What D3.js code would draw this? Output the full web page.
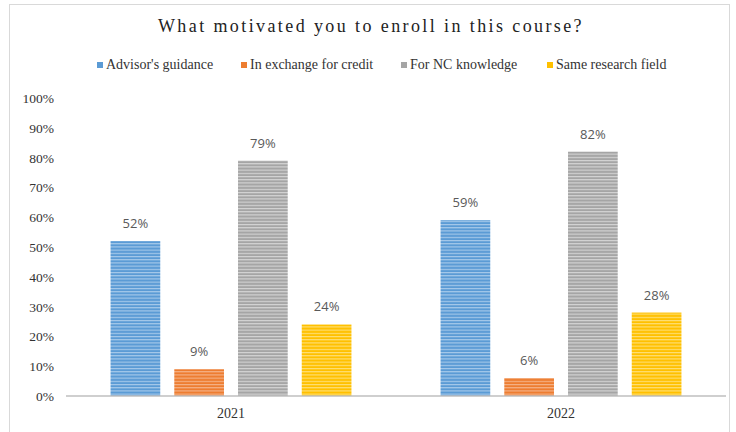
<html>
<head>
<meta charset="utf-8">
<script src="https://cdn.jsdelivr.net/npm/d3@7"></script>
<style>
body { margin: 0; background: #fff; }
svg { display: block; }
</style>
</head>
<body>
<script>
var years = ['2021', '2022'];
var motives = ["Advisor's guidance", 'In exchange for credit', 'For NC knowledge', 'Same research field'];
var v2021 = [52, 9, 79, 24];
var v2022 = [59, 6, 82, 28];
var yTicks = [0, 10, 20, 30, 40, 50, 60, 70, 80, 90, 100];
var colors = ['#5b9bd5', '#ed7d31', '#a5a5a5', '#ffc000'];
var stripes = ['#a9cbeb', '#f5b48a', '#d6d6d6', '#ffe07a'];

var width = 736, height = 432;
var svg = d3.select('body').append('svg')
  .attr('width', width)
  .attr('height', height);

// striped fills
var defs = svg.append('defs');
colors.forEach(function (c, i) {
  var p = defs.append('pattern')
    .attr('id', 'stripe' + i)
    .attr('patternUnits', 'userSpaceOnUse')
    .attr('width', 8).attr('height', 3.2);
  p.append('rect').attr('width', 8).attr('height', 3.2).attr('fill', c);
  p.append('rect').attr('y', 0).attr('width', 8).attr('height', 1.1).attr('fill', stripes[i]);
});

// chart frame
svg.append('rect')
  .attr('x', 9.5).attr('y', 4.5)
  .attr('width', 720).attr('height', 440)
  .attr('fill', 'none')
  .attr('stroke', '#d9d9d9');

var x0 = d3.scaleBand().domain(years).range([66, 726]).paddingInner(0.27).paddingOuter(0.135);
var x1 = d3.scaleBand().domain(motives).range([0, x0.bandwidth()]).paddingInner(0.22);
var y = d3.scaleLinear().domain([0, 100]).range([396, 98]);

svg.append('text')
  .attr('x', 371).attr('y', 32)
  .attr('text-anchor', 'middle')
  .style('font-family', '"Liberation Serif", "Times New Roman", serif')
  .style('font-size', '18px')
  .style('letter-spacing', '2.4px')
  .attr('fill', '#222')
  .text('What motivated you to enroll in this course?');

// legend
var legendX = [97, 241, 401, 547];
var legend = svg.selectAll('.legend').data(motives).enter().append('g')
  .attr('transform', function (d, i) { return 'translate(' + legendX[i] + ',69)'; });
legend.append('rect')
  .attr('x', 0).attr('y', -7).attr('width', 6).attr('height', 6)
  .attr('fill', function (d, i) { return colors[i]; });
legend.append('text')
  .attr('x', 9).attr('y', 0)
  .style('font-family', '"Liberation Serif", "Times New Roman", serif')
  .style('font-size', '14px')
  .attr('fill', '#333')
  .text(function (d) { return d; });

// y axis labels
svg.selectAll('.ytick').data(yTicks).enter().append('text')
  .attr('x', 54).attr('y', function (d) { return y(d) + 5; })
  .attr('text-anchor', 'end')
  .style('font-family', '"Liberation Serif", "Times New Roman", serif')
  .style('font-size', '13.5px')
  .attr('fill', '#333')
  .text(function (d) { return d + '%'; });

var data = [v2021, v2022];
var groups = svg.selectAll('.grp').data(years).enter().append('g')
  .attr('transform', function (d) { return 'translate(' + x0(d) + ',0)'; });

groups.selectAll('rect').data(function (d, gi) {
  return motives.map(function (m, i) { return { m: m, v: data[gi][i], i: i }; });
}).enter().append('rect')
  .attr('x', function (d) { return x1(d.m); })
  .attr('y', function (d) { return y(d.v); })
  .attr('width', x1.bandwidth())
  .attr('height', function (d) { return y(0) - y(d.v); })
  .attr('fill', function (d) { return 'url(#stripe' + d.i + ')'; });

groups.selectAll('.lbl').data(function (d, gi) {
  return motives.map(function (m, i) { return { m: m, v: data[gi][i] }; });
}).enter().append('text')
  .attr('x', function (d) { return x1(d.m) + x1.bandwidth() / 2; })
  .attr('y', function (d) { return y(d.v) - 13; })
  .attr('text-anchor', 'middle')
  .style('font-family', '"Open Sans", "DejaVu Sans", sans-serif')
  .style('font-size', '13px')
  .attr('fill', '#595959')
  .text(function (d) { return d.v + '%'; });

// baseline
svg.append('line')
  .attr('x1', 66).attr('x2', 726)
  .attr('y1', y(0)).attr('y2', y(0))
  .attr('stroke', '#bfbfbf').attr('stroke-width', 1.5);

svg.selectAll('.xlab').data(years).enter().append('text')
  .attr('x', function (d) { return x0(d) + x0.bandwidth() / 2; })
  .attr('y', 418)
  .attr('text-anchor', 'middle')
  .style('font-family', '"Liberation Serif", "Times New Roman", serif')
  .style('font-size', '14px')
  .attr('fill', '#333')
  .text(function (d) { return d; });
</script>
</body>
</html>
